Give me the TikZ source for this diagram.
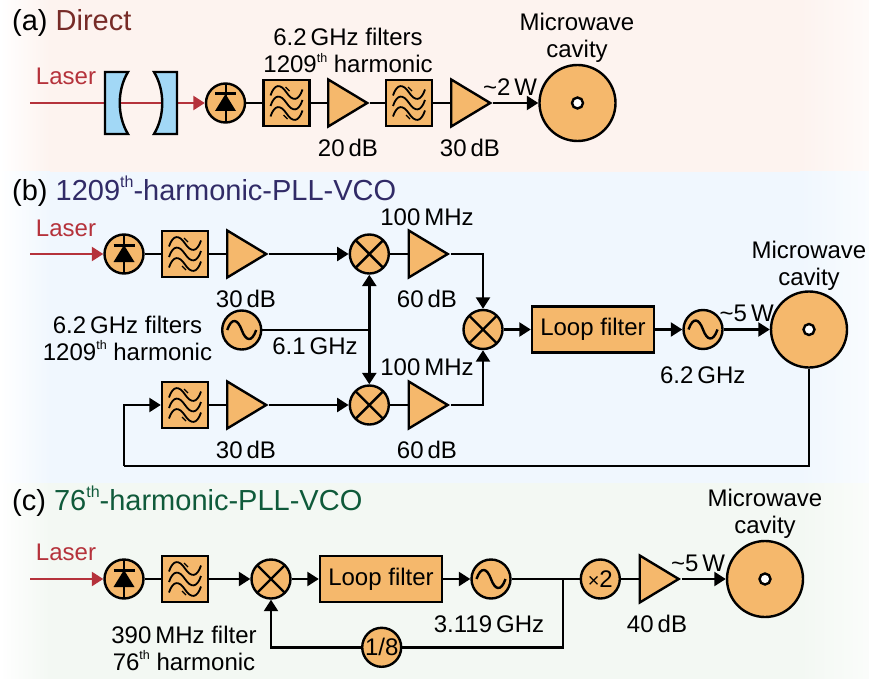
\documentclass[tikz,border=0pt]{standalone}
\usepackage{fontspec}
\setmainfont{Liberation Sans}
\usetikzlibrary{arrows.meta,calc,shapes.geometric}
\definecolor{blockfill}{HTML}{F5B86C}
\definecolor{lensfill}{HTML}{A2D8F6}
\definecolor{laserred}{HTML}{B5323B}
\definecolor{paneldirect}{HTML}{FDF3EF}
\definecolor{panelpllb}{HTML}{F0F7FE}
\definecolor{panelpllc}{HTML}{F3F8F3}
\definecolor{titledirect}{HTML}{772B27}
\definecolor{titlepllb}{HTML}{312B67}
\definecolor{titlepllc}{HTML}{0F5A3A}
\def\thmark{\raisebox{10.5pt}{\fontsize{12.5}{13}\selectfont th}}
\def\thtitle{\raisebox{13.5pt}{\fontsize{16}{17}\selectfont th}}
\tikzset{
	conn/.style={line width=2.4pt, draw=black},
	arr/.style={conn, -{Triangle[length=11.5pt,width=14pt]}},
	beam/.style={line width=2.4pt, draw=laserred, -{Triangle[length=11.5pt,width=14pt]}},
	lab/.style={font=\fontsize{24}{27}\selectfont, inner sep=0, anchor=base, align=center},
	laserlab/.style={lab, text=laserred},
	paneltitle/.style={font=\fontsize{29}{30}\selectfont, inner sep=0, anchor=base west},
	block/.style={draw=black, line width=2.4pt, fill=blockfill, inner sep=0},
	roundblock/.style={block, circle, minimum size=39pt},
	amp/.style={block, isosceles triangle, isosceles triangle stretches, shape border rotate=0, minimum width=47pt, minimum height=39pt, anchor=lower side},
	loopbox/.style={block, rectangle, minimum width=122pt, minimum height=46pt, font=\fontsize{24}{27}\selectfont},
	cavity/.style={block, circle, minimum size=76pt, path picture={
		\draw[line width=2.4pt, fill=white] (path picture bounding box.center) circle (5.5pt);}},
	filt/.style={block, rectangle, minimum size=46pt, path picture={
		\begin{scope}[shift={(path picture bounding box.center)}, line width=1.8pt]
		\foreach \yy in {-10.5,0,10.5}{
			\draw ({-16},{\yy+3}) .. controls (-12,{\yy-9}) and (-6,{\yy-9}) .. (0,\yy) .. controls (6,{\yy+9}) and (12,{\yy+9}) .. (16,{\yy-3});
		}
		\draw[line width=1.2pt] (-1,-16) -- (3,-12) (-3,12) -- (1,16);
		\end{scope}}},
	diode/.style={roundblock, path picture={
		\begin{scope}[shift={(path picture bounding box.center)}]
		\draw[line width=2pt] (0,-20) -- (0,20);
		\draw[line width=3pt] (-10.5,-9) -- (10.5,-9);
		\fill[black] (0,-9) -- (10.5,8) -- (-10.5,8) -- cycle;
		\end{scope}}},
	mixer/.style={roundblock, path picture={
		\begin{scope}[shift={(path picture bounding box.center)}, line width=2.4pt]
		\draw (-14,-14) -- (14,14) (-14,14) -- (14,-14);
		\end{scope}}},
	osc/.style={roundblock, path picture={
		\begin{scope}[shift={(path picture bounding box.center)}, line width=2.4pt]
		\draw (-14.5,0) .. controls (-10,-13) and (-4,-11) .. (0,0) .. controls (4,11) and (10,13) .. (14.5,0);
		\end{scope}}},
	roundtext/.style={roundblock, font=\fontsize{24}{27}\selectfont},
}

\begin{document}
\begin{tikzpicture}[x=1pt, y=-1pt]
	\useasboundingbox (0,0) rectangle (869,679);

	%%%%% panels %%%%%
	\fill[paneldirect] (0,0) rectangle (869,172);
	\fill[panelpllb] (0,172) rectangle (869,483);
	\fill[panelpllc] (0,483) rectangle (869,679);
	\shade[left color=white, right color=paneldirect] (0,0) rectangle (50,172);
	\shade[left color=white, right color=panelpllb] (0,172) rectangle (50,483);
	\shade[left color=white, right color=panelpllc] (0,483) rectangle (50,679);
	\shade[right color=white!60!paneldirect, left color=paneldirect] (800,0) rectangle (869,172);
	\shade[right color=white!60!panelpllb, left color=panelpllb] (800,172) rectangle (869,483);
	\shade[right color=white!60!panelpllc, left color=panelpllc] (800,483) rectangle (869,679);

	%%%%% (a) %%%%%
	\node[paneltitle] (titlea) at (12,30.7) {(a) \textcolor{titledirect}{Direct}};
	\node[laserlab] (lasera) at (66,85) {Laser};
	\coordinate (starta) at (30,103);
	\node[diode] (pda) at (225.5,103) {};
	\node[filt] (filta1) at (286.5,103) {};
	\node[amp] (ampa1) at (327,103) {};
	\node[filt] (filta2) at (409,103) {};
	\node[amp] (ampa2) at (450,103) {};
	\node[cavity] (cava) at (577.5,103) {};

	\draw[beam] (starta) -- (pda.west);
	\draw[line width=2.4pt, fill=lensfill] (105,72) -- (128,72) .. controls (117,90) and (117,116) .. (128,134) -- (105,134) -- cycle;
	\draw[line width=2.4pt, fill=lensfill] (177,72) -- (154,72) .. controls (165,90) and (165,116) .. (154,134) -- (177,134) -- cycle;
	\draw[conn] (pda) -- (filta1);
	\draw[conn] (filta1) -- (ampa1.lower side);
	\draw[conn] (ampa1.apex) -- (filta2);
	\draw[conn] (filta2) -- (ampa2.lower side);
	\draw[arr] (ampa2.apex) -- (cava);

	\node[lab] (filtlaba) at (348,72.7) {6.2\,GHz filters\\1209\thmark{} harmonic};
	\node[lab] (gaina1) at (348,156.7) {20\,dB};
	\node[lab] (gaina2) at (470,156.7) {30\,dB};
	\node[lab] (powera) at (510,96) {\textasciitilde2\,W};
	\node[lab] (cavlaba) at (577,57.7) {Microwave\\cavity};

	%%%%% (b) %%%%%
	\node[paneltitle] (titleb) at (12,200.7) {(b) \textcolor{titlepllb}{1209\thtitle-harmonic-PLL-VCO}};
	\node[laserlab] (laserb) at (66,236) {Laser};
	\coordinate (startb) at (30,254);
	\node[diode] (pdb) at (124,254) {};
	\node[filt] (filtb1) at (185,254) {};
	\node[amp] (ampb1) at (226,254) {};
	\node[mixer] (mixb1) at (369.3,254) {};
	\node[amp] (ampb2) at (407.5,254) {};
	\node[osc] (oscb1) at (241.7,330) {};
	\node[mixer] (mixb3) at (483,329.5) {};
	\node[loopbox] (loopb) at (593,329.5) {Loop filter};
	\node[osc] (oscb2) at (703,329.5) {};
	\node[cavity] (cavb) at (809,329.5) {};
	\node[filt] (filtb2) at (185,405) {};
	\node[amp] (ampb3) at (226,405) {};
	\node[mixer] (mixb2) at (369.3,405) {};
	\node[amp] (ampb4) at (407.5,405) {};
	\coordinate (tapb) at (369.3,330);
	\coordinate (backb) at (124,465.7);

	\draw[beam] (startb) -- (pdb.west);
	\draw[conn] (pdb) -- (filtb1);
	\draw[conn] (filtb1) -- (ampb1.lower side);
	\draw[arr] (ampb1.apex) -- (mixb1);
	\draw[conn] (mixb1) -- (ampb2.lower side);
	\draw[arr] (ampb2.apex) -| (mixb3);
	\draw[conn] (oscb1) -- (tapb);
	\draw[conn, line width=2.8pt, {Triangle[length=11.5pt,width=14pt]}-{Triangle[length=11.5pt,width=14pt]}] (mixb1) -- (mixb2);
	\draw[conn] (filtb2) -- (ampb3.lower side);
	\draw[arr] (ampb3.apex) -- (mixb2);
	\draw[conn] (mixb2) -- (ampb4.lower side);
	\draw[arr] (ampb4.apex) -| (mixb3);
	\draw[arr] (mixb3) -- (loopb);
	\draw[arr] (loopb) -- (oscb2);
	\draw[arr] (oscb2) -- (cavb);
	\draw[conn] (cavb.south) |- (backb);
	\draw[arr] (backb) |- (filtb2.west);

	\node[lab] (hundredb1) at (427,225) {100\,MHz};
	\node[lab] (hundredb2) at (427,375.7) {100\,MHz};
	\node[lab] (gainb1) at (246,307.7) {30\,dB};
	\node[lab] (gainb2) at (427,307.7) {60\,dB};
	\node[lab] (gainb3) at (246,458.3) {30\,dB};
	\node[lab] (gainb4) at (427,458.3) {60\,dB};
	\node[lab] (filtlabb) at (127.5,360) {6.2\,GHz filters\\1209\thmark{} harmonic};
	\node[lab] (freqb1) at (315,354.3) {6.1\,GHz};
	\node[lab] (freqb2) at (702.7,383) {6.2\,GHz};
	\node[lab] (powerb) at (746.7,321.7) {\textasciitilde5\,W};
	\node[lab] (cavlabb) at (809,285) {Microwave\\cavity};

	%%%%% (c) %%%%%
	\node[paneltitle] (titlec) at (12,510.7) {(c) \textcolor{titlepllc}{76\thtitle-harmonic-PLL-VCO}};
	\node[laserlab] (laserc) at (66,560.7) {Laser};
	\coordinate (startc) at (30,579);
	\node[diode] (pdc) at (124,579) {};
	\node[filt] (filtc) at (185,579) {};
	\node[mixer] (mixc) at (271,579) {};
	\node[loopbox] (loopc) at (381,579) {Loop filter};
	\node[osc] (oscc) at (491,579) {};
	\coordinate (tapc) at (562.7,579);
	\node[roundtext] (dblc) at (600.3,579) {{\fontsize{20}{20}\selectfont ×}2};
	\node[amp] (ampc) at (638.5,579) {};
	\node[cavity] (cavc) at (765,579) {};
	\node[roundtext] (divc) at (381.7,647.3) {1/8};

	\draw[beam] (startc) -- (pdc.west);
	\draw[conn] (pdc) -- (filtc);
	\draw[arr] (filtc) -- (mixc);
	\draw[arr] (mixc) -- (loopc);
	\draw[arr] (loopc) -- (oscc);
	\draw[conn] (oscc) -- (dblc);
	\draw[conn] (dblc) -- (ampc.lower side);
	\draw[arr] (ampc.apex) -- (cavc);
	\draw[conn] (tapc) |- (divc);
	\draw[arr] (divc) -| (mixc);

	\node[lab] (filtlabc) at (184,670) {390\,MHz filter\\76\thmark{} harmonic};
	\node[lab] (freqc) at (489,632.7) {3.119\,GHz};
	\node[lab] (gainc) at (657,632.7) {40\,dB};
	\node[lab] (powerc) at (698,571.7) {\textasciitilde5\,W};
	\node[lab] (cavlabc) at (765,533.3) {Microwave\\cavity};
\end{tikzpicture}
\end{document}
